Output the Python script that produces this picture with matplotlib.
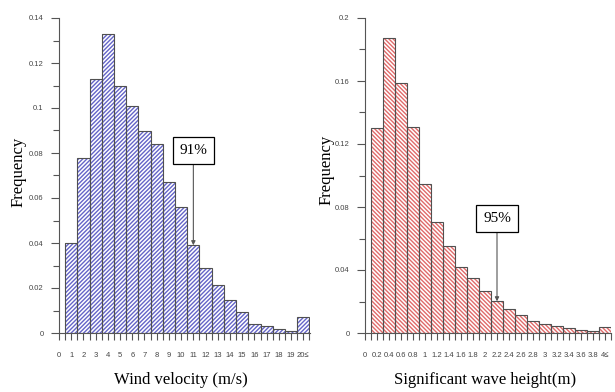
import matplotlib as mpl
import matplotlib.pyplot as plt
from matplotlib.ticker import MultipleLocator

mpl.use("Agg")

# wind velocity histogram (m/s)
wind_bins = list(range(1, 21))
wind_freq = [0.040, 0.078, 0.113, 0.133, 0.110, 0.101, 0.090, 0.084, 0.067, 0.056,
             0.039, 0.029, 0.0215, 0.0145, 0.0093, 0.0039, 0.0030, 0.0018, 0.0010, 0.0070]
wind_ticks = list(range(0, 21))
wind_ticklabels = [str(v) for v in range(0, 20)] + ["20≤"]
wind_yticks = [0, 0.02, 0.04, 0.06, 0.08, 0.1, 0.12, 0.14]
wind_yticklabels = ["0", "0.02", "0.04", "0.06", "0.08", "0.1", "0.12", "0.14"]

# significant wave height histogram (m)
wave_bins = [0.2, 0.4, 0.6, 0.8, 1.0, 1.2, 1.4, 1.6, 1.8, 2.0,
             2.2, 2.4, 2.6, 2.8, 3.0, 3.2, 3.4, 3.6, 3.8, 4.0]
wave_freq = [0.130, 0.1875, 0.1585, 0.131, 0.0946, 0.0703, 0.0552, 0.0421, 0.0347, 0.0267,
             0.0201, 0.0152, 0.0114, 0.0076, 0.0055, 0.0044, 0.0034, 0.0019, 0.0015, 0.0038]
wave_ticks = [0, 0.2, 0.4, 0.6, 0.8, 1.0, 1.2, 1.4, 1.6, 1.8, 2.0,
              2.2, 2.4, 2.6, 2.8, 3.0, 3.2, 3.4, 3.6, 3.8, 4.0]
wave_ticklabels = ["0", "0.2", "0.4", "0.6", "0.8", "1", "1.2", "1.4", "1.6", "1.8", "2",
                   "2.2", "2.4", "2.6", "2.8", "3", "3.2", "3.4", "3.6", "3.8", "4≤"]
wave_yticks = [0, 0.04, 0.08, 0.12, 0.16, 0.2]
wave_yticklabels = ["0", "0.04", "0.08", "0.12", "0.16", "0.2"]

SERIF = "Liberation Serif"
TICK_FONT = "Liberation Sans"
TICK_COLOR = "#444444"


def _panel(ax, bins, freq, width, hatch, hatch_color, ticks, ticklabels,
           yticks, yticklabels, xminor, yminor, xlim, ylim):
    ax.bar(bins, freq, width=width, color="white", edgecolor=hatch_color,
           hatch=hatch, linewidth=0, zorder=1)
    ax.bar(bins, freq, width=width, fill=False, edgecolor="#505050",
           linewidth=0.8, zorder=2)
    ax.set_xlim(*xlim)
    ax.set_ylim(*ylim)
    ax.set_xticks(ticks)
    ax.set_xticklabels(ticklabels, fontsize=5.5, family=TICK_FONT, color=TICK_COLOR)
    ax.set_yticks(yticks)
    ax.set_yticklabels(yticklabels, fontsize=5.5, family=TICK_FONT, color=TICK_COLOR)
    ax.xaxis.set_minor_locator(MultipleLocator(xminor))
    ax.yaxis.set_minor_locator(MultipleLocator(yminor))
    ax.tick_params(which="both", direction="out", color="#555555", width=0.8)
    ax.tick_params(axis="x", which="major", length=5, pad=9)
    ax.tick_params(axis="x", which="minor", length=5)
    ax.tick_params(axis="y", which="major", length=6, pad=5)
    ax.tick_params(axis="y", which="minor", length=4)
    for side in ("top", "right"):
        ax.spines[side].set_visible(False)
    for side in ("left", "bottom"):
        ax.spines[side].set_color("#555555")
        ax.spines[side].set_linewidth(0.8)


def _callout(ax, text, x, y_bar, y_box):
    ax.annotate(text, xy=(x, y_bar), xytext=(x, y_box),
                ha="center", va="center", fontsize=11, family=SERIF,
                bbox=dict(boxstyle="square,pad=0.45", fc="white", ec="black", lw=0.9),
                arrowprops=dict(arrowstyle="-|>", color="#555555", lw=0.8,
                                mutation_scale=6, shrinkA=0, shrinkB=0),
                zorder=5)


fig = plt.figure(figsize=(6.15, 3.92), dpi=100)

ax1 = fig.add_axes([59 / 615, 1 - 333 / 392, 251 / 615, 315 / 392])
_panel(ax1, wind_bins, wind_freq, 1.0, "////////", "#6464c8", wind_ticks, wind_ticklabels,
       wind_yticks, wind_yticklabels, 0.5, 0.01, (0, 20.55), (0, 0.14))
_callout(ax1, "91%", 11, wind_freq[10], 0.081)

ax2 = fig.add_axes([365 / 615, 1 - 333 / 392, 246 / 615, 315 / 392])
_panel(ax2, wave_bins, wave_freq, 0.2, "\\\\\\\\\\\\\\\\", "#e06a6a", wave_ticks,
       wave_ticklabels, wave_yticks, wave_yticklabels, 0.1, 0.02, (0, 4.1), (0, 0.2))
_callout(ax2, "95%", 2.2, wave_freq[10], 0.0727)

fig.text(19 / 615, 1 - 172 / 392, "Frequency", rotation=90, ha="center", va="center",
         fontsize=12, family=SERIF)
fig.text(327 / 615, 1 - 170 / 392, "Frequency", rotation=90, ha="center", va="center",
         fontsize=12, family=SERIF)
fig.text(181 / 615, 1 - 380 / 392, "Wind velocity (m/s)", ha="center", va="center",
         fontsize=12, family=SERIF)
fig.text(485 / 615, 1 - 380 / 392, "Significant wave height(m)", ha="center", va="center",
         fontsize=12, family=SERIF)

fig.savefig("out.png", dpi=100)
